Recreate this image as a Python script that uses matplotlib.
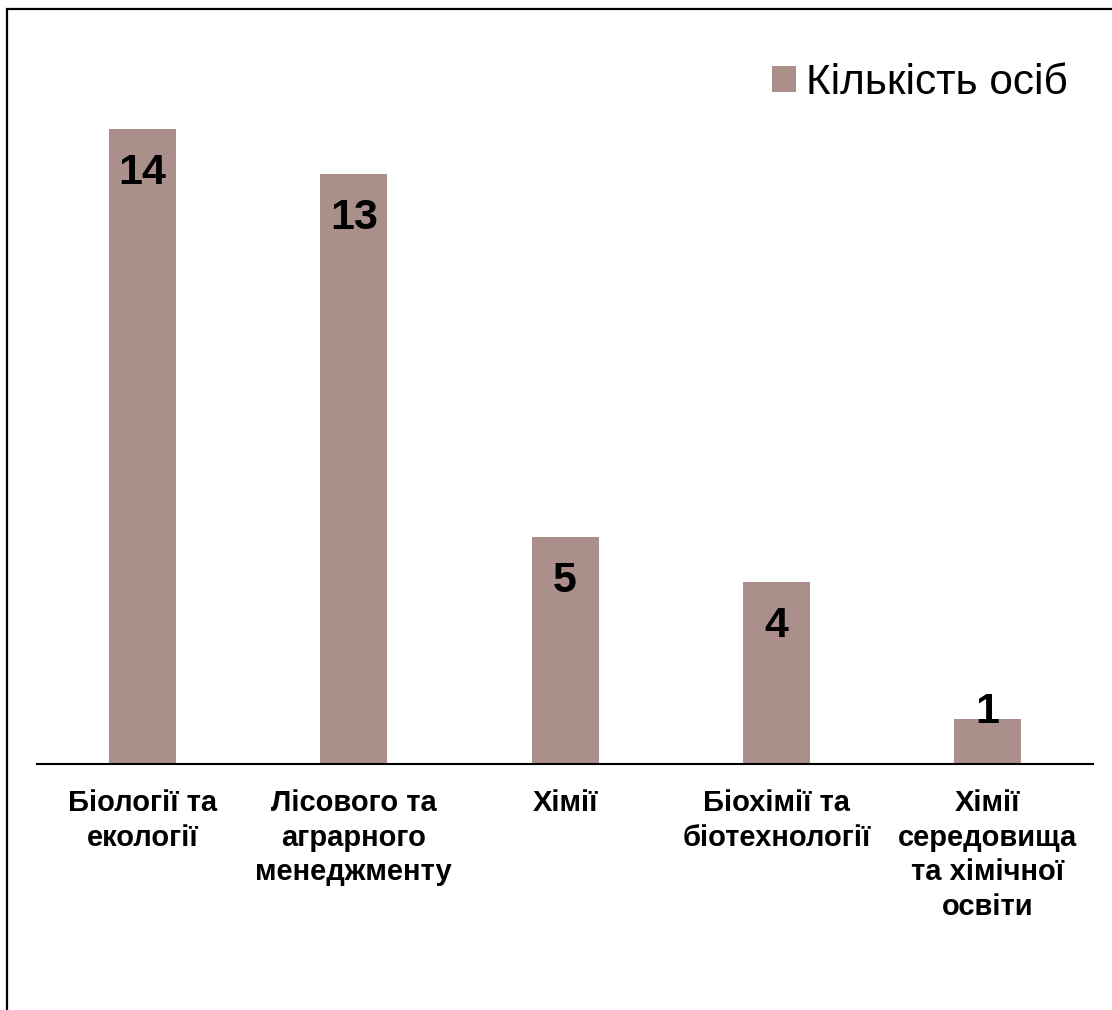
import matplotlib.pyplot as plt
from matplotlib.patches import Rectangle

plt.rcParams['font.family'] = ['Liberation Sans', 'DejaVu Sans']

categories = ['Біології та\nекології', 'Лісового та\nаграрного\nменеджменту', 'Хімії',
              'Біохімії та\nбіотехнології', 'Хімії\nсередовища\nта хімічної\nосвіти']
counts = [14, 13, 5, 4, 1]
series_name = 'Кількість осіб'

bar_color = '#AA8F8A'

fig = plt.figure(figsize=(11.12, 10.10), dpi=100)
ax = fig.add_axes([0.0333, 0.2436, 0.9497, 0.7188])

x = range(len(categories))
bars = ax.bar(x, counts, width=0.317, color=bar_color, label=series_name)

for rect, v in zip(bars, counts):
    cx = rect.get_x() + rect.get_width() / 2
    # short bars get the label pushed up over the top edge
    dy = -39.5 if v > 2 else -2.9
    ax.annotate(str(v), (cx, v), xytext=(0, dy), textcoords='offset points',
                ha='center', va='baseline', fontsize=31, fontweight='bold')

ax.set_xlim(-0.5, 4.5)
ax.set_ylim(0, 16)
ax.set_xticks(list(x))
ax.set_xticklabels(categories, fontsize=21, fontweight='bold', linespacing=1.3, va='top')
ax.tick_params(axis='x', length=0, pad=18)
ax.set_yticks([])
for s in ['top', 'right', 'left']:
    ax.spines[s].set_visible(False)
ax.spines['bottom'].set_linewidth(1.5)

fig.legend(loc='upper right', bbox_to_anchor=(0.987, 0.967), fontsize=30.5, frameon=False,
           handlelength=0.55, handleheight=0.55, handletextpad=0.25, borderpad=0.2)

# outer border around the chart area
fig.patches.append(Rectangle((7 / 1112, -0.05), 1.2, 1.05 - 9 / 1010, transform=fig.transFigure,
                             fill=False, edgecolor='black', linewidth=1.6))

fig.savefig('out.png', dpi=100)
